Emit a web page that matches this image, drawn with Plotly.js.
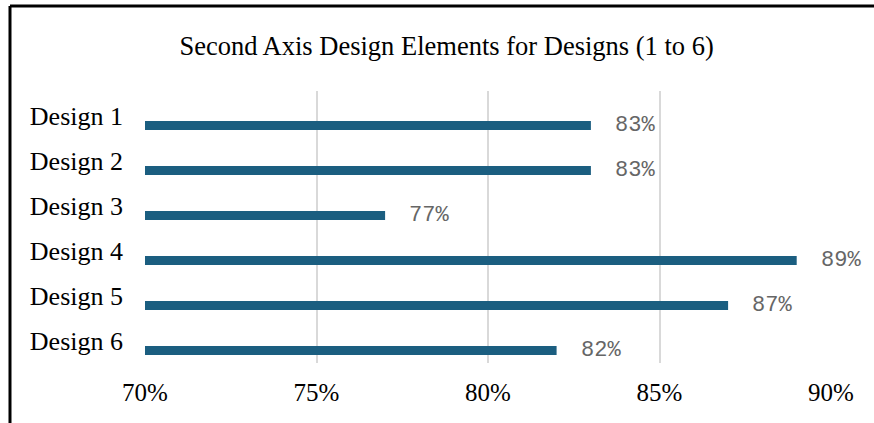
<!DOCTYPE html>
<html>
<head>
<meta charset="utf-8">
<script src="https://cdn.plot.ly/plotly-3.0.1.min.js"></script>
<style>
html,body{margin:0;padding:0;background:#fff;}
#chart{width:874px;height:423px;}
</style>
</head>
<body>
<div id="chart"></div>
<script>
const categories = ["Design 1", "Design 2", "Design 3", "Design 4", "Design 5", "Design 6"];
const values = [83, 83, 77, 89, 87, 82];
const labels = ["83%", "83%", "77%", "89%", "87%", "82%"];
const xTickVals = [70, 75, 80, 85, 90];
const xTickText = ["70%", "75%", "80%", "85%", "90%"];

const trace = {
  type: "bar",
  orientation: "h",
  x: values,
  y: categories,
  width: 0.2,
  offset: 0.12,
  marker: {color: "#1b5e80"},
  hoverinfo: "skip"
};

const annotations = categories.map((c, i) => ({
  x: values[i],
  y: c,
  xref: "x",
  yref: "y",
  text: labels[i],
  showarrow: false,
  xanchor: "left",
  yanchor: "middle",
  xshift: 22,
  yshift: -10,
  font: {family: "Liberation Mono, DejaVu Sans Mono, monospace", size: 22, color: "#666666"}
}));

const layout = {
  width: 874,
  height: 423,
  margin: {l: 145, r: 43, t: 91, b: 60},
  paper_bgcolor: "#ffffff",
  plot_bgcolor: "#ffffff",
  showlegend: false,
  title: {
    text: "Second Axis Design Elements for Designs (1 to 6)",
    font: {family: "Liberation Serif, Times New Roman, serif", size: 26.5, color: "#000000"},
    x: 0.511,
    xref: "container",
    xanchor: "center",
    y: 0.893,
    yanchor: "middle"
  },
  xaxis: {
    range: [70, 90],
    tickvals: xTickVals,
    ticktext: xTickText,
    showgrid: true,
    gridcolor: "#d9d9d9",
    gridwidth: 2,
    zeroline: false,
    showline: false,
    ticks: "",
    ticklabelstandoff: 12,
    tickfont: {family: "Liberation Serif, Times New Roman, serif", size: 25, color: "#000000"},
    fixedrange: true
  },
  yaxis: {
    type: "category",
    autorange: "reversed",
    showgrid: false,
    zeroline: false,
    showline: false,
    ticks: "",
    ticklabelstandoff: 21,
    tickfont: {family: "Liberation Serif, Times New Roman, serif", size: 26, color: "#000000"},
    fixedrange: true
  },
  shapes: [
    {type: "line", xref: "paper", yref: "paper", x0: -0.1968, x1: 1.07, y0: 1.3125, y1: 1.3125, line: {color: "#000", width: 3}},
    {type: "line", xref: "paper", yref: "paper", x0: -0.1968, x1: -0.1968, y0: 1.3125, y1: -0.25, line: {color: "#000", width: 3}}
  ],
  annotations: annotations
};

Plotly.newPlot("chart", [trace], layout, {displayModeBar: false, staticPlot: true});
</script>
</body>
</html>
